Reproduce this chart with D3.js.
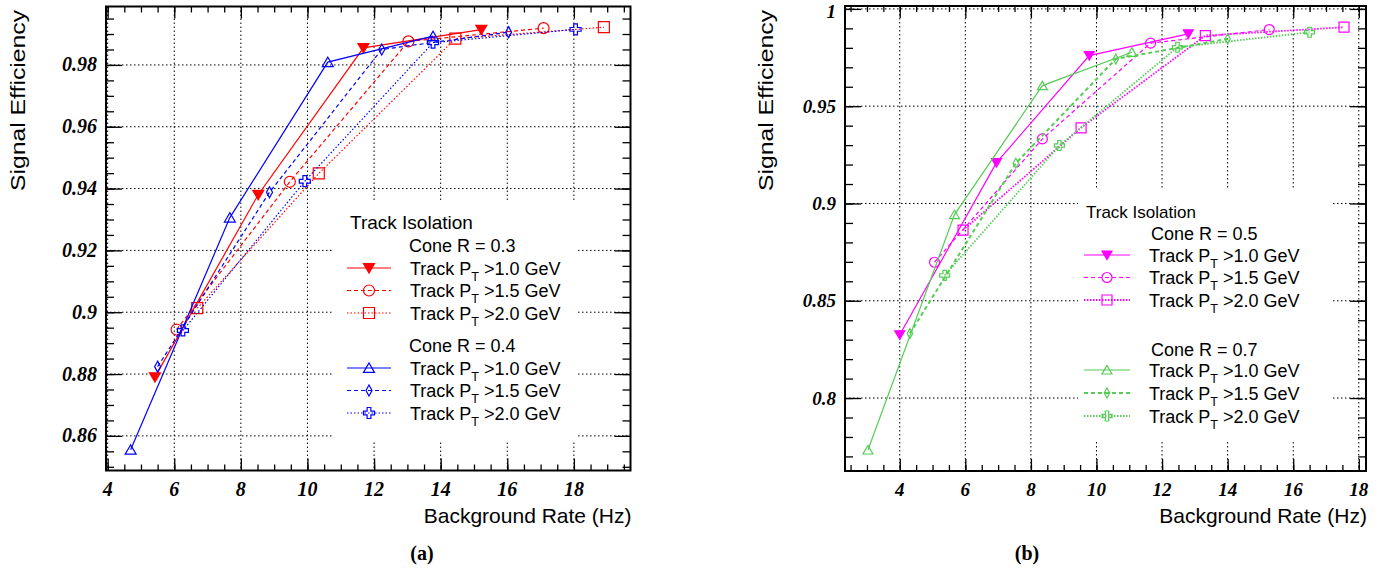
<!DOCTYPE html>
<html>
<head>
<meta charset="utf-8">
<script src="https://cdn.jsdelivr.net/npm/d3@7"></script>
<style>
  body { margin: 0; background: #fff; }
  svg { display: block; }
</style>
</head>
<body>
<script>
// ---- values ----
// panel (a): cone R = 0.3 (red) and 0.4 (blue)
var xTicksA = [4, 6, 8, 10, 12, 14, 16, 18];
var yTicksA = [0.86, 0.88, 0.9, 0.92, 0.94, 0.96, 0.98];
var yLabelsA = ["0.86", "0.88", "0.9", "0.92", "0.94", "0.96", "0.98"];
var r03pt10 = [[5.42, 0.879], [8.52, 0.938], [11.68, 0.9855], [15.22, 0.9914]];
var r03pt15 = [[6.07, 0.8944], [9.47, 0.9422], [13.03, 0.9876], [17.09, 0.9919]];
var r03pt20 = [[6.69, 0.9013], [10.34, 0.9449], [14.44, 0.9885], [18.9, 0.9922]];
var r04pt10 = [[4.69, 0.8555], [7.67, 0.9306], [10.61, 0.9809], [13.77, 0.9893]];
var r04pt15 = [[5.5, 0.8824], [8.86, 0.9388], [12.23, 0.985], [16.04, 0.9906]];
var r04pt20 = [[6.26, 0.8941], [9.92, 0.9424], [13.77, 0.9872], [18.05, 0.9915]];

// panel (b): cone R = 0.5 (magenta) and 0.7 (green)
var xTicksB = [4, 6, 8, 10, 12, 14, 16, 18];
var yTicksB = [0.8, 0.85, 0.9, 0.95, 1];
var yLabelsB = ["0.8", "0.85", "0.9", "0.95", "1"];
var r05pt10 = [[4.0, 0.8325], [6.95, 0.921], [9.78, 0.976], [12.8, 0.9872]];
var r05pt15 = [[5.06, 0.8698], [8.35, 0.9332], [11.65, 0.9824], [15.27, 0.9894]];
var r05pt20 = [[5.93, 0.8863], [9.53, 0.9389], [13.32, 0.9863], [17.55, 0.9906]];
var r07pt10 = [[3.03, 0.7733], [5.67, 0.8943], [8.35, 0.9606], [11.08, 0.9777]];
var r07pt15 = [[4.31, 0.8332], [7.54, 0.9207], [10.59, 0.9743], [14.0, 0.9846]];
var r07pt20 = [[5.37, 0.863], [8.87, 0.9298], [12.47, 0.9803], [16.5, 0.988]];

var legendTitle = "Track Isolation";
var coneLabelsA = ["Cone R = 0.3", "Cone R = 0.4"];
var coneLabelsB = ["Cone R = 0.5", "Cone R = 0.7"];
var ptCuts = [">1.0 GeV", ">1.5 GeV", ">2.0 GeV"];
var xTitle = "Background Rate (Hz)";
var yTitle = "Signal Efficiency";
var panelTags = ["(a)", "(b)"];

var GREEN = "#55cc55";

var svg = d3.select("body").append("svg")
    .attr("width", 1388)
    .attr("height", 573);

// marker shapes (ROOT-like)
function markerPath(type, s) {
    var h = s / 2;
    if (type === "triDown") return "M" + (-h) + "," + (-h * 0.8) + "L" + h + "," + (-h * 0.8) + "L0," + (h * 0.9) + "Z";
    if (type === "triUp") return "M" + (-h) + "," + (h * 0.8) + "L" + h + "," + (h * 0.8) + "L0," + (-h * 0.9) + "Z";
    if (type === "square") return "M" + (-h) + "," + (-h) + "H" + h + "V" + h + "H" + (-h) + "Z";
    if (type === "diamond") return "M0," + (-h) + "L" + (h * 0.55) + ",0L0," + h + "L" + (-h * 0.55) + ",0Z";
    if (type === "cross") {
        var a = s * 0.17;
        return "M" + (-a) + "," + (-h) + "H" + a + "V" + (-a) + "H" + h + "V" + a + "H" + a + "V" + h +
            "H" + (-a) + "V" + a + "H" + (-h) + "V" + (-a) + "H" + (-a) + "Z";
    }
    return null;
}

function drawMarker(g, type, x, y, color, s) {
    if (type === "circle") {
        g.append("circle").attr("cx", x).attr("cy", y).attr("r", s / 2)
            .attr("fill", "none").attr("stroke", color).attr("stroke-width", 1.2);
        return;
    }
    g.append("path").attr("d", markerPath(type, s))
        .attr("transform", "translate(" + x + "," + y + ")")
        .attr("fill", type === "triDown" ? color : "none")
        .attr("stroke", color).attr("stroke-width", 1.2);
}

function ptLabel(g, x, y, size, cut) {
    var t = g.append("text").attr("x", x).attr("y", y)
        .style("font-family", "'Liberation Sans', Arial, sans-serif")
        .style("font-size", size + "px");
    t.append("tspan").text("Track P");
    t.append("tspan").attr("dy", 6).style("font-size", (size * 0.7) + "px").text("T");
    t.append("tspan").attr("dy", -6).text(" " + cut);
}

function drawPanel(p) {
    var x = d3.scaleLinear().domain(p.xDomain).range([p.left, p.right]);
    var y = d3.scaleLinear().domain(p.yDomain).range([p.bottom, p.top]);
    var g = svg.append("g");

    // dotted grid
    var grid = g.append("g").attr("stroke", "#000").attr("stroke-width", 1)
        .attr("stroke-dasharray", "1.5,2.5");
    p.xTicks.forEach(function (v) {
        grid.append("line").attr("x1", x(v)).attr("x2", x(v)).attr("y1", p.top).attr("y2", p.bottom);
    });
    p.yTicks.forEach(function (v) {
        grid.append("line").attr("x1", p.left).attr("x2", p.right).attr("y1", y(v)).attr("y2", y(v));
    });

    // legend background hides the grid
    g.append("rect").attr("x", p.legend.x0).attr("y", p.legend.y0)
        .attr("width", p.legend.x1 - p.legend.x0).attr("height", p.legend.y1 - p.legend.y0)
        .attr("fill", "#fff");

    // curves
    var line = d3.line().x(function (d) { return x(d[0]); }).y(function (d) { return y(d[1]); });
    p.series.forEach(function (s) {
        g.append("path").datum(s.data).attr("d", line)
            .attr("fill", "none").attr("stroke", s.color)
            .attr("stroke-width", s.width).attr("stroke-dasharray", s.dash);
        s.data.forEach(function (d) {
            drawMarker(g, s.marker, x(d[0]), y(d[1]), s.color, p.markerSize);
        });
    });

    // axes with inward ticks on all four sides
    function tickAxis(axis, scale, values, size, transform) {
        var a = g.append("g").attr("transform", transform)
            .call(axis(scale).tickValues(values).tickSize(size).tickFormat(""));
        a.select(".domain").remove();
        a.selectAll("line").attr("stroke", "#000").attr("stroke-width", 1.3);
    }
    var xMinor = d3.range(p.xMinorStart, p.xDomain[1], 0.5);
    var yMinor = d3.range(p.yMinorStart, p.yDomain[1], p.yMinorStep);
    tickAxis(d3.axisBottom, x, xMinor, -6, "translate(0," + p.bottom + ")");
    tickAxis(d3.axisBottom, x, p.xTicks, -12, "translate(0," + p.bottom + ")");
    tickAxis(d3.axisTop, x, xMinor, -6, "translate(0," + p.top + ")");
    tickAxis(d3.axisTop, x, p.xTicks, -12, "translate(0," + p.top + ")");
    tickAxis(d3.axisLeft, y, yMinor, -8, "translate(" + p.left + ",0)");
    tickAxis(d3.axisLeft, y, p.yTicks, -16, "translate(" + p.left + ",0)");
    tickAxis(d3.axisRight, y, yMinor, -8, "translate(" + p.right + ",0)");
    tickAxis(d3.axisRight, y, p.yTicks, -16, "translate(" + p.right + ",0)");

    g.append("rect").attr("x", p.left).attr("y", p.top)
        .attr("width", p.right - p.left).attr("height", p.bottom - p.top)
        .attr("fill", "none").attr("stroke", "#000").attr("stroke-width", 2);

    // tick labels
    var lab = g.append("g")
        .style("font-family", "'Liberation Serif', 'Times New Roman', serif")
        .style("font-weight", "bold").style("font-style", "italic")
        .style("font-size", p.labelSize + "px");
    p.xTicks.forEach(function (v) {
        lab.append("text").attr("x", x(v)).attr("y", p.bottom + 25)
            .attr("text-anchor", "middle").text(v);
    });
    p.yTicks.forEach(function (v, i) {
        lab.append("text").attr("x", p.left - 9).attr("y", Math.max(y(v) + 6.5, 18))
            .attr("text-anchor", "end").text(p.yLabels[i]);
    });

    // axis titles
    g.append("text").attr("x", p.right + 1).attr("y", 523)
        .attr("text-anchor", "end")
        .style("font-family", "'Liberation Sans', Arial, sans-serif")
        .style("font-size", "21px").text(xTitle);
    g.append("text").attr("transform", "translate(" + p.yTitleX + ",10) rotate(-90)")
        .attr("text-anchor", "end")
        .attr("textLength", 181).attr("lengthAdjust", "spacingAndGlyphs")
        .style("font-family", "'Liberation Sans', Arial, sans-serif")
        .style("font-size", "21px").text(yTitle);
    g.append("text").attr("x", p.tagX).attr("y", 560)
        .attr("text-anchor", "middle")
        .style("font-family", "'Liberation Serif', 'Times New Roman', serif")
        .style("font-weight", "bold").style("font-size", "20px").text(p.tag);

    // legend
    var L = p.legend;
    g.append("text").attr("x", L.titleX).attr("y", L.titleY)
        .style("font-family", "'Liberation Sans', Arial, sans-serif")
        .style("font-size", L.titleSize + "px").text(legendTitle);
    p.cones.forEach(function (c, i) {
        g.append("text").attr("x", L.coneX).attr("y", L.coneY[i])
            .style("font-family", "'Liberation Sans', Arial, sans-serif")
            .style("font-size", "18px").text(c);
    });
    p.series.forEach(function (s, i) {
        var cy = L.rowY[i];
        g.append("line").attr("x1", L.lineX0).attr("x2", L.lineX1).attr("y1", cy).attr("y2", cy)
            .attr("stroke", s.color).attr("stroke-width", s.width).attr("stroke-dasharray", s.dash);
        drawMarker(g, s.marker, (L.lineX0 + L.lineX1) / 2, cy, s.color, p.markerSize);
        ptLabel(g, L.textX, cy + 6.5, 18, ptCuts[i % 3]);
    });
}

drawPanel({
    left: 106, right: 630.5, top: 6.5, bottom: 470.5,
    xDomain: [3.95, 19.7], yDomain: [0.8488, 0.9989],
    xTicks: xTicksA, yTicks: yTicksA, yLabels: yLabelsA,
    xMinorStart: 4, yMinorStart: 0.85, yMinorStep: 0.005,
    labelSize: 20, markerSize: 11, yTitleX: 25, tagX: 422, tag: panelTags[0],
    cones: coneLabelsA,
    series: [
        { data: r03pt10, color: "#ff0000", dash: null, width: 1.2, marker: "triDown" },
        { data: r03pt15, color: "#ff0000", dash: "4,3", width: 1.2, marker: "circle" },
        { data: r03pt20, color: "#ff0000", dash: "1.5,2", width: 1.2, marker: "square" },
        { data: r04pt10, color: "#0000ff", dash: null, width: 1.2, marker: "triUp" },
        { data: r04pt15, color: "#0000ff", dash: "4,3", width: 1.2, marker: "diamond" },
        { data: r04pt20, color: "#0000ff", dash: "1.5,2", width: 1.2, marker: "cross" }
    ],
    legend: {
        x0: 333, x1: 577, y0: 200, y1: 442,
        titleX: 350, titleY: 228.5, titleSize: 19,
        coneX: 409, coneY: [251.5, 352],
        lineX0: 347, lineX1: 391, textX: 410,
        rowY: [268, 290.5, 313, 368, 390.5, 413]
    }
});

drawPanel({
    left: 845, right: 1366, top: 6, bottom: 471,
    xDomain: [2.33, 18.22], yDomain: [0.7625, 1.0015],
    xTicks: xTicksB, yTicks: yTicksB, yLabels: yLabelsB,
    xMinorStart: 2.5, yMinorStart: 0.77, yMinorStep: 0.01,
    labelSize: 19, markerSize: 10, yTitleX: 773, tagX: 1027, tag: panelTags[1],
    cones: coneLabelsB,
    series: [
        { data: r05pt10, color: "#ff00ff", dash: null, width: 1.2, marker: "triDown" },
        { data: r05pt15, color: "#ff00ff", dash: "4,3", width: 1.2, marker: "circle" },
        { data: r05pt20, color: "#ff00ff", dash: "1.5,1.5", width: 1.8, marker: "square" },
        { data: r07pt10, color: GREEN, dash: null, width: 1.2, marker: "triUp" },
        { data: r07pt15, color: GREEN, dash: "4,3", width: 2, marker: "diamond" },
        { data: r07pt20, color: GREEN, dash: "1.5,1.5", width: 1.8, marker: "cross" }
    ],
    legend: {
        x0: 1078, x1: 1333, y0: 190, y1: 440,
        titleX: 1086, titleY: 217.5, titleSize: 17,
        coneX: 1151, coneY: [239.5, 355.5],
        lineX0: 1084, lineX1: 1130, textX: 1149,
        rowY: [255, 277.5, 300, 370, 393, 416]
    }
});
</script>
</body>
</html>
